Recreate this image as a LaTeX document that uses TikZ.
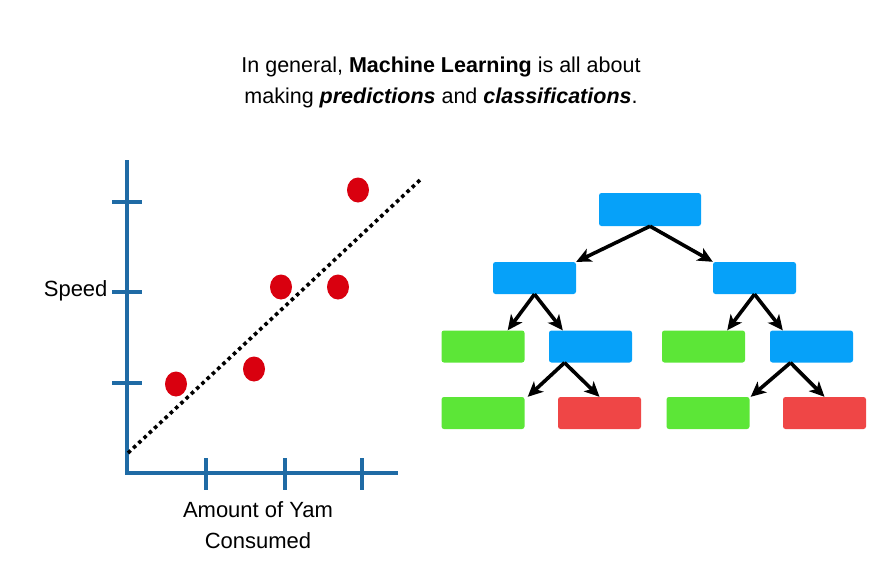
\documentclass[tikz,border=0pt]{standalone}
\usepackage{fontspec}
\setmainfont{Liberation Sans}
\usetikzlibrary{arrows.meta}
\definecolor{axisblue}{HTML}{1F6BA5}
\definecolor{dotred}{HTML}{D9000F}
\definecolor{splitblue}{HTML}{06A1F9}
\definecolor{leafgreen}{HTML}{5CE637}
\definecolor{leafred}{HTML}{EF4646}
\tikzset{
  treebox/.style={rounded corners=2.5pt,minimum width=83pt,minimum height=32pt,inner sep=0pt},
  splitbox/.style={treebox,fill=splitblue},
  yesbox/.style={treebox,fill=leafgreen},
  nobox/.style={treebox,fill=leafred},
  branch/.style={line width=3.6pt,-{Stealth[length=15pt,width=14pt,inset=4pt]}},
  bigtext/.style={font=\fontsize{21.5}{31}\selectfont},
  axistext/.style={font=\fontsize{22}{31}\selectfont}
}
\begin{document}
\begin{tikzpicture}[x=1pt,y=-1pt]
\useasboundingbox (0,0) rectangle (883,576);
\pgfmathsetmacro{\ox}{127}
\pgfmathsetmacro{\oy}{473}
\pgfmathsetmacro{\tick}{15}
\node[bigtext,align=center] (title) at (441,82) {In general, \textbf{Machine Learning} is all about\\making \textbf{\textit{predictions}} and \textbf{\textit{classifications}}.};
% axes
\draw[axisblue,line width=4pt](\ox,160)--(\ox,\oy)--(398,\oy);
\foreach \y in {202,292,383}{\draw[axisblue,line width=4pt](\ox-\tick,\y)--++(2*\tick,0);}
\foreach \x in {206,285,362}{\draw[axisblue,line width=4pt](\x,\oy-\tick)--++(0,2*\tick+2);}
\node[axistext,anchor=east] (speed) at (111,291) {Speed};
\node[axistext,align=center] (yam) at (258,525) {Amount of Yam\\Consumed};
% fit line and data
\draw[line width=3.6pt,dash pattern=on 3.6pt off 3.6pt](128,453)--(420,180);
\foreach \x/\y in {176/384,254/369,281/287,338/287,358/190}{\fill[dotred](\x,\y) ellipse (11 and 12.5);}
% tree
\node[splitbox,minimum width=102pt,minimum height=33pt] (root) at (650,209.5) {};
\node[splitbox] (l1a) at (534.5,278) {};
\node[splitbox] (l1b) at (754.5,278) {};
\node[yesbox] (l2a) at (483,346.5) {};
\node[splitbox] (l2b) at (590.5,346.5) {};
\node[yesbox] (l2c) at (703.5,346.5) {};
\node[splitbox] (l2d) at (811.5,346.5) {};
\node[yesbox] (l3a) at (483,413) {};
\node[nobox] (l3b) at (599.5,413) {};
\node[yesbox] (l3c) at (708,413) {};
\node[nobox] (l3d) at (824.5,413) {};
\draw[branch](root.south)--(l1a.north east);
\draw[branch](root.south)--(l1b.north west);
\draw[branch](l1a.south)--([xshift=-17pt]l2a.north east);
\draw[branch](l1a.south)--([xshift=14pt]l2b.north west);
\draw[branch](l1b.south)--([xshift=-18pt]l2c.north east);
\draw[branch](l1b.south)--([xshift=13pt]l2d.north west);
\draw[branch]([xshift=-26pt]l2b.south)--([xshift=3pt]l3a.north east);
\draw[branch]([xshift=-26pt]l2b.south)--(l3b.north);
\draw[branch]([xshift=-21pt]l2d.south)--([xshift=1pt]l3c.north east);
\draw[branch]([xshift=-21pt]l2d.south)--(l3d.north);
\end{tikzpicture}
\end{document}
